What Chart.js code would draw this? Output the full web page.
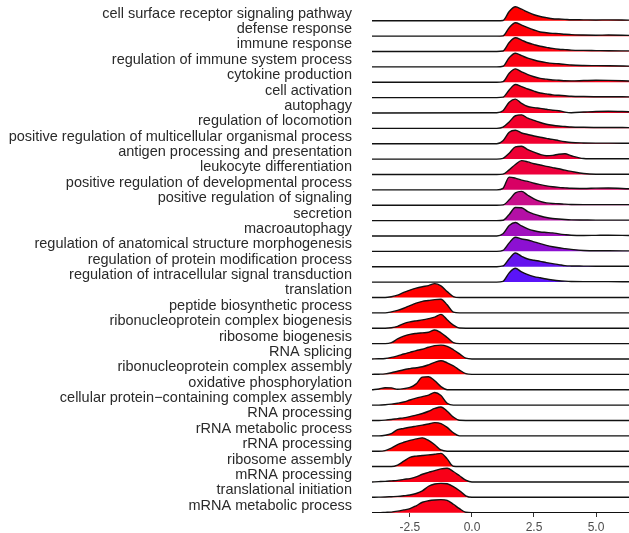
<!DOCTYPE html>
<html>
<head>
<meta charset="utf-8">
<script src="https://cdn.jsdelivr.net/npm/chart.js@4"></script>
<style>
  body { margin: 0; background: #fff; }
</style>
</head>
<body>
<canvas id="ridges" width="629" height="533"></canvas>
<script>
// GO terms, top to bottom as in the figure
const terms = [
  'cell surface receptor signaling pathway',
  'defense response',
  'immune response',
  'regulation of immune system process',
  'cytokine production',
  'cell activation',
  'autophagy',
  'regulation of locomotion',
  'positive regulation of multicellular organismal process',
  'antigen processing and presentation',
  'leukocyte differentiation',
  'positive regulation of developmental process',
  'positive regulation of signaling',
  'secretion',
  'macroautophagy',
  'regulation of anatomical structure morphogenesis',
  'regulation of protein modification process',
  'regulation of intracellular signal transduction',
  'translation',
  'peptide biosynthetic process',
  'ribonucleoprotein complex biogenesis',
  'ribosome biogenesis',
  'RNA splicing',
  'ribonucleoprotein complex assembly',
  'oxidative phosphorylation',
  'cellular protein\u2212containing complex assembly',
  'RNA processing',
  'rRNA metabolic process',
  'rRNA processing',
  'ribosome assembly',
  'mRNA processing',
  'translational initiation',
  'mRNA metabolic process'
];

// x positions (log2 fold change) where the ridge heights were read
const upX = [-4.03, 1.0, 1.25, 1.5, 1.75, 2.0, 2.25, 2.5, 2.75, 3.0, 3.25, 3.5, 3.75, 4.0, 4.5, 5.0, 5.5, 6.33];
const downX = [-4.03, -3.75, -3.5, -3.25, -3.0, -2.75, -2.5, -2.25, -2.0, -1.75, -1.5, -1.25, -1.0, -0.75, -0.5, -0.25, 0.0, 6.33];

// ridge heights (in row units) for the up-regulated terms
const upDensity = [
  [0, 0, 0.02, 0.6, 0.91, 0.75, 0.56, 0.39, 0.28, 0.2, 0.13, 0.11, 0.09, 0.07, 0.06, 0.05, 0.06, 0.04],
  [0, 0, 0.02, 0.55, 0.87, 0.72, 0.55, 0.4, 0.27, 0.22, 0.18, 0.16, 0.12, 0.1, 0.07, 0.06, 0.07, 0.05],
  [0, 0, 0.03, 0.58, 0.89, 0.74, 0.57, 0.45, 0.34, 0.27, 0.2, 0.15, 0.12, 0.09, 0.07, 0.06, 0.05, 0.04],
  [0, 0, 0.04, 0.6, 0.89, 0.73, 0.57, 0.45, 0.35, 0.28, 0.23, 0.2, 0.16, 0.12, 0.09, 0.08, 0.07, 0.05],
  [0, 0, 0.04, 0.58, 0.87, 0.68, 0.5, 0.36, 0.25, 0.2, 0.15, 0.13, 0.1, 0.09, 0.11, 0.13, 0.12, 0.08],
  [0, 0, 0.03, 0.5, 0.85, 0.72, 0.56, 0.42, 0.3, 0.24, 0.18, 0.15, 0.12, 0.09, 0.07, 0.06, 0.06, 0.05],
  [0, 0.02, 0.15, 0.7, 0.9, 0.62, 0.42, 0.35, 0.3, 0.24, 0.18, 0.15, 0.06, 0.02, 0.06, 0.1, 0.11, 0.08],
  [0, 0, 0.08, 0.42, 0.82, 0.88, 0.66, 0.52, 0.38, 0.27, 0.2, 0.15, 0.12, 0.09, 0.07, 0.06, 0.06, 0.05],
  [0, 0, 0.2, 0.75, 0.88, 0.7, 0.6, 0.5, 0.42, 0.35, 0.28, 0.2, 0.13, 0.08, 0.05, 0.04, 0.04, 0.03],
  [0, 0, 0.05, 0.38, 0.8, 0.84, 0.62, 0.45, 0.3, 0.22, 0.24, 0.32, 0.35, 0.22, 0.04, 0.02, 0.02, 0.02],
  [0, 0, 0.02, 0.3, 0.65, 0.9, 0.82, 0.7, 0.62, 0.53, 0.45, 0.37, 0.28, 0.2, 0.06, 0.02, 0.02, 0.02],
  [0, 0, 0.1, 0.83, 0.76, 0.63, 0.55, 0.43, 0.34, 0.26, 0.2, 0.16, 0.13, 0.1, 0.09, 0.11, 0.12, 0.07],
  [0, 0, 0.02, 0.35, 0.8, 0.9, 0.65, 0.42, 0.25, 0.15, 0.11, 0.1, 0.07, 0.05, 0.04, 0.04, 0.04, 0.04],
  [0, 0, 0.02, 0.4, 0.85, 0.84, 0.58, 0.42, 0.3, 0.2, 0.14, 0.1, 0.07, 0.05, 0.04, 0.03, 0.03, 0.03],
  [0, 0, 0.15, 0.68, 0.88, 0.65, 0.46, 0.34, 0.26, 0.23, 0.2, 0.14, 0.09, 0.05, 0.03, 0.04, 0.05, 0.03],
  [0, 0, 0.06, 0.55, 0.92, 0.8, 0.74, 0.62, 0.5, 0.39, 0.3, 0.23, 0.18, 0.13, 0.06, 0.04, 0.04, 0.03],
  [0, 0, 0.05, 0.52, 0.89, 0.68, 0.5, 0.42, 0.35, 0.27, 0.2, 0.14, 0.07, 0.05, 0.04, 0.03, 0.03, 0.03],
  [0, 0, 0.05, 0.6, 0.9, 0.66, 0.48, 0.36, 0.28, 0.2, 0.14, 0.09, 0.06, 0.04, 0.03, 0.03, 0.03, 0.02]
];

// ridge heights for the down-regulated terms
const downDensity = [
  [0, 0, 0, 0.05, 0.15, 0.33, 0.48, 0.61, 0.7, 0.77, 0.9, 0.75, 0.38, 0.06, 0, 0, 0, 0],
  [0, 0, 0, 0.06, 0.16, 0.3, 0.47, 0.63, 0.75, 0.8, 0.86, 0.88, 0.52, 0.05, 0, 0, 0, 0],
  [0, 0, 0, 0.03, 0.12, 0.3, 0.41, 0.48, 0.54, 0.62, 0.72, 0.9, 0.55, 0.2, 0.01, 0, 0, 0],
  [0, 0, 0, 0.06, 0.3, 0.48, 0.6, 0.66, 0.7, 0.74, 0.88, 0.7, 0.4, 0.07, 0, 0, 0, 0],
  [0, 0.01, 0.03, 0.1, 0.2, 0.32, 0.43, 0.54, 0.63, 0.76, 0.87, 0.9, 0.82, 0.6, 0.33, 0.05, 0, 0],
  [0, 0.01, 0.03, 0.1, 0.2, 0.3, 0.37, 0.43, 0.49, 0.62, 0.78, 0.88, 0.75, 0.55, 0.28, 0.05, 0, 0],
  [0, 0.05, 0.13, 0.12, 0.03, 0.07, 0.15, 0.38, 0.82, 0.84, 0.58, 0.2, 0, 0, 0, 0, 0, 0],
  [0, 0, 0.02, 0.06, 0.12, 0.2, 0.33, 0.45, 0.55, 0.65, 0.82, 0.62, 0.12, 0, 0, 0, 0, 0],
  [0, 0, 0.02, 0.06, 0.12, 0.17, 0.25, 0.35, 0.45, 0.6, 0.78, 0.88, 0.6, 0.22, 0.01, 0, 0, 0],
  [0, 0, 0.04, 0.15, 0.4, 0.48, 0.56, 0.63, 0.7, 0.77, 0.86, 0.8, 0.55, 0.2, 0, 0, 0, 0],
  [0, 0, 0.04, 0.2, 0.43, 0.58, 0.7, 0.8, 0.87, 0.7, 0.42, 0.08, 0, 0, 0, 0, 0, 0],
  [0, 0, 0, 0, 0.1, 0.35, 0.6, 0.68, 0.72, 0.76, 0.8, 0.86, 0.5, 0.02, 0, 0, 0, 0],
  [0, 0.02, 0.04, 0.07, 0.1, 0.17, 0.22, 0.33, 0.5, 0.62, 0.74, 0.85, 0.89, 0.68, 0.4, 0.12, 0, 0],
  [0, 0.01, 0.02, 0.04, 0.06, 0.1, 0.15, 0.25, 0.42, 0.72, 0.87, 0.91, 0.88, 0.7, 0.43, 0.1, 0, 0],
  [0, 0, 0.02, 0.04, 0.1, 0.18, 0.26, 0.45, 0.68, 0.78, 0.83, 0.85, 0.8, 0.55, 0.26, 0.03, 0, 0]
];

const xTicks = [-2.5, 0, 2.5, 5];
const xTickLabels = ['-2.5', '0.0', '2.5', '5.0'];

// fill colour per term (p-value colour scale), top to bottom
const fillColors = [
  '#ff0000', '#fd0008', '#fc000c', '#fa0012', '#f80018', '#f6001e', '#f40024', '#f2002a',
  '#f00030', '#ee0035', '#ec003c', '#d80064', '#c8108c', '#b410a6', '#a010be', '#8c10d2',
  '#6414ee', '#5a14f8',
  '#ff0000', '#ff0000', '#ff0000', '#ff0000', '#ff0000', '#ff0000', '#ff0000', '#ff0000',
  '#fd0008', '#ff0000', '#ff0000', '#ff0000', '#f80018', '#fa0012', '#f80018'
];

Chart.defaults.font.family = "'Liberation Sans', Arial, sans-serif";

const rowCount = terms.length;
const datasets = [];
// bottom row first so lower ridges are painted over the ones above
for (let r = rowCount - 1; r >= 0; r--) {
  const base = rowCount - 1 - r;
  const isUp = r < upDensity.length;
  const xs = isUp ? upX : downX;
  const hs = isUp ? upDensity[r] : downDensity[r - upDensity.length];
  datasets.push({
    label: terms[r],
    data: xs.map((x, j) => ({ x: x, y: base + hs[j] })),
    borderColor: '#111',
    borderWidth: 1.4,
    backgroundColor: fillColors[r],
    fill: { value: base },
    pointRadius: 0,
    cubicInterpolationMode: 'monotone'
  });
}

new Chart(document.getElementById('ridges'), {
  type: 'line',
  data: { datasets: datasets },
  options: {
    responsive: false,
    animation: false,
    layout: { padding: 0 },
    plugins: { legend: { display: false }, tooltip: { enabled: false } },
    scales: {
      x: {
        type: 'linear',
        min: -4.03,
        max: 6.33,
        afterBuildTicks: s => { s.ticks = xTicks.map(v => ({ value: v })); },
        afterFit: s => { s.height = 20; s.paddingLeft = 0; s.paddingRight = 0; },
        ticks: {
          callback: v => xTickLabels[xTicks.indexOf(v)],
          color: '#4d4d4d',
          font: { size: 12 },
          padding: 3,
          maxRotation: 0,
          autoSkip: false
        },
        grid: { drawOnChartArea: false, tickLength: 4, color: '#333', lineWidth: 1 },
        border: { display: false }
      },
      y: {
        type: 'linear',
        min: -0.02,
        max: 33.35,
        afterBuildTicks: s => { s.ticks = terms.map((t, i) => ({ value: i })); },
        afterFit: s => { s.width = 372; s.paddingTop = 0; s.paddingBottom = 0; },
        ticks: {
          callback: v => terms[rowCount - 1 - Math.round(v)],
          color: '#2a2a2a',
          font: { size: 14.5 },
          padding: 12,
          labelOffset: -7,
          autoSkip: false
        },
        grid: { display: false },
        border: { display: false }
      }
    }
  }
});
</script>
</body>
</html>
